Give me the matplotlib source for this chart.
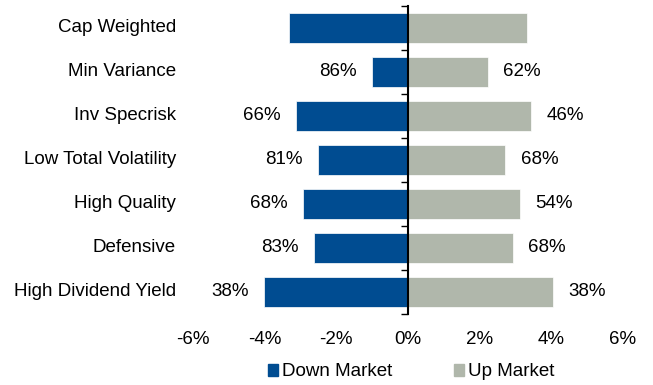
import matplotlib.pyplot as plt
from matplotlib.patches import Patch
from matplotlib.transforms import blended_transform_factory

### Data ###
categories = ["Cap Weighted", "Min Variance", "Inv Specrisk", "Low Total Volatility",
              "High Quality", "Defensive", "High Dividend Yield"]
down_market = [-3.31, -1.00, -3.12, -2.51, -2.92, -2.62, -4.02]
up_market = [3.33, 2.23, 3.43, 2.72, 3.13, 2.93, 4.04]
down_labels = ["", "86%", "66%", "81%", "68%", "83%", "38%"]
up_labels = ["", "62%", "46%", "68%", "54%", "68%", "38%"]
xticks = [-6, -4, -2, 0, 2, 4, 6]

blue = "#004C91"
grey = "#B0B7AB"
fs = 13.5

plt.rcParams['font.family'] = ['Liberation Sans', 'DejaVu Sans']

fig = plt.figure(figsize=(6.53, 3.85), dpi=100)
ax = fig.add_axes([193 / 653, 1 - 314 / 385, 430 / 653, 308 / 385])

y = list(range(len(categories)))
ax.barh(y, down_market, height=0.66, color=blue, edgecolor="white", linewidth=0.5)
ax.barh(y, up_market, height=0.66, color=grey, edgecolor="white", linewidth=0.5)

ax.set_xlim(-6, 6)
ax.set_ylim(len(categories) - 0.5, -0.5)

# data labels
for i in y:
    if down_labels[i]:
        ax.annotate(down_labels[i], (down_market[i], i), xytext=(-11, 0),
                    textcoords="offset points", ha="right", va="center", fontsize=fs)
    if up_labels[i]:
        ax.annotate(up_labels[i], (up_market[i], i), xytext=(11, 0),
                    textcoords="offset points", ha="left", va="center", fontsize=fs)

# category names at the left
trans = blended_transform_factory(ax.transAxes, ax.transData)
for i, name in enumerate(categories):
    ax.text(-0.04, i, name, transform=trans, ha="right", va="center", fontsize=fs)

# axis styling
for s in ["top", "right", "bottom"]:
    ax.spines[s].set_visible(False)
ax.spines["left"].set_position(("data", 0))
ax.spines["left"].set_linewidth(1.5)
ax.spines["left"].set_zorder(5)
ax.set_yticks([i - 0.5 for i in range(len(categories) + 1)])
ax.set_yticklabels([])
ax.tick_params(axis="y", direction="out", length=5, width=1)

ax.set_xticks(xticks)
ax.set_xticklabels([f"{t}%" for t in xticks], fontsize=fs)
ax.tick_params(axis="x", length=0, pad=12)

handles = [Patch(color=blue, label="Down Market"), Patch(color=grey, label="Up Market")]
fig.legend(handles=handles, loc="center", bbox_to_anchor=(411 / 653, 1 - 372 / 385),
           ncol=2, frameon=False, fontsize=fs, handlelength=0.55, handleheight=0.55,
           handletextpad=0.2, columnspacing=3.3)

fig.savefig("out.png", dpi=100)
